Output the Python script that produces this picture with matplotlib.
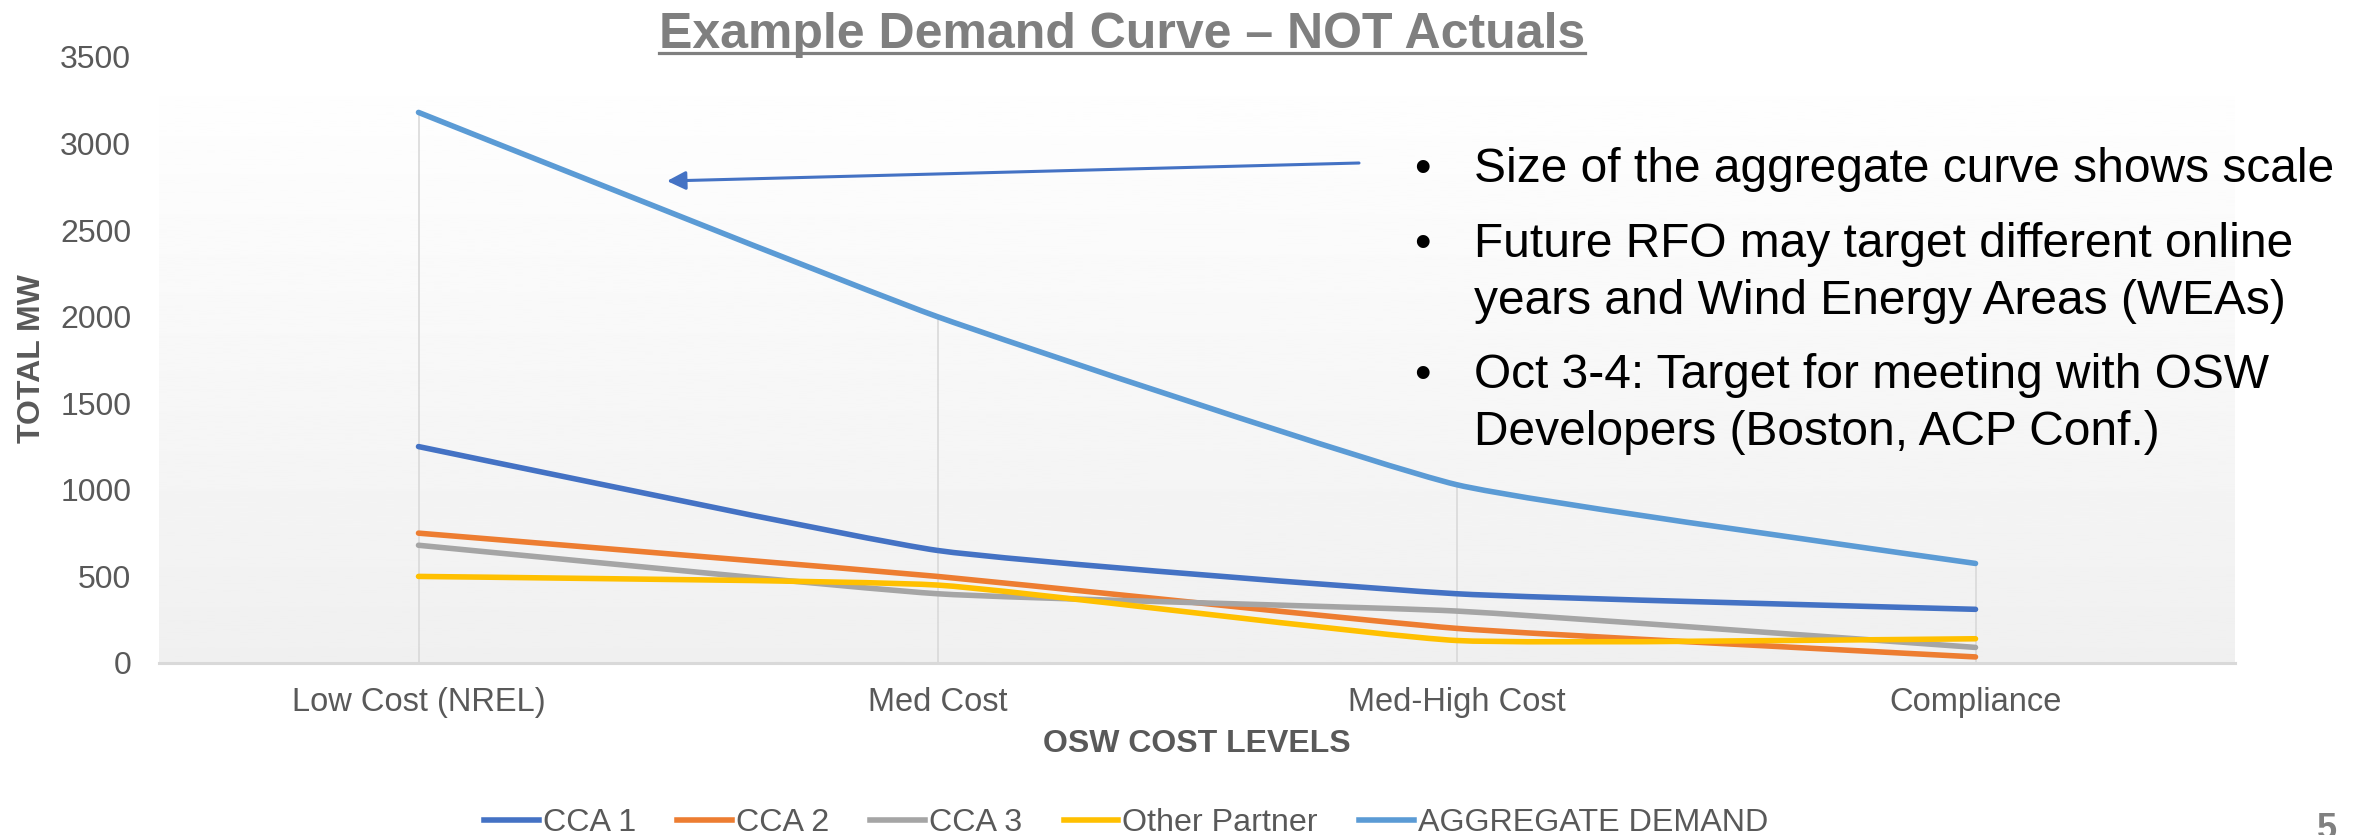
import numpy as np
import matplotlib
matplotlib.use("Agg")
import matplotlib.pyplot as plt
from matplotlib.path import Path
from matplotlib.patches import PathPatch, FancyArrowPatch
from matplotlib.lines import Line2D

plt.rcParams['font.family'] = ['Liberation Sans', 'DejaVu Sans']

# ---------------- data ----------------
categories = ["Low Cost (NREL)", "Med Cost", "Med-High Cost", "Compliance"]
series_names = ["CCA 1", "CCA 2", "CCA 3", "Other Partner", "AGGREGATE DEMAND"]
cca1 = [1250, 650, 400, 310]
cca2 = [750, 500, 200, 35]
cca3 = [680, 400, 300, 90]
other_partner = [500, 450, 130, 140]
aggregate = [3180, 2000, 1030, 575]
y_ticks = [0, 500, 1000, 1500, 2000, 2500, 3000, 3500]

title_text = "Example Demand Curve \u2013 NOT Actuals"
x_label = "OSW COST LEVELS"
y_label = "TOTAL MW"
bullets = [
    ["Size of the aggregate curve shows scale"],
    ["Future RFO may target different online", "years and Wind Energy Areas (WEAs)"],
    ["Oct 3-4: Target for meeting with OSW", "Developers (Boston, ACP Conf.)"],
]
page_number = "5"

colors = ["#4472C4", "#ED7D31", "#A5A5A5", "#FFC000", "#5B9BD5"]
all_series = [cca1, cca2, cca3, other_partner, aggregate]

W, H = 2359, 835
fig = plt.figure(figsize=(W / 100, H / 100), dpi=100)
fig.patch.set_facecolor("white")


def fx(px):
    return px / W


def fy(py):
    return 1 - py / H


ax = fig.add_axes([fx(159), fy(663), fx(2235) - fx(159), fy(57) - fy(663)])
ax.set_xlim(-0.5, len(categories) - 0.5)
ax.set_ylim(0, 3500)

# gradient background of plot area
grad = np.linspace(0.94, 1.0, 256).reshape(-1, 1)
ax.imshow(grad, cmap="gray", vmin=0, vmax=1, extent=[0, 1, 0, 1],
          transform=ax.transAxes, aspect="auto", origin="lower", zorder=0)
ax.set_facecolor("white")

x = np.arange(len(categories))

# drop lines from the highest series
ax.vlines(x, 0, aggregate, colors="#d9d9d9", linewidth=1.2, zorder=1)

SMOOTH = 0.07


def smooth_path(xs, ys):
    pts = np.column_stack([xs, ys]).astype(float)
    n = len(pts)
    verts = [pts[0]]
    codes = [Path.MOVETO]
    for i in range(n - 1):
        p0 = pts[i - 1] if i > 0 else pts[i]
        p1 = pts[i]
        p2 = pts[i + 1]
        p3 = pts[i + 2] if i + 2 < n else pts[i + 1]
        c1 = p1 + (p2 - p0) * SMOOTH
        c2 = p2 - (p3 - p1) * SMOOTH
        verts += [c1, c2, p2]
        codes += [Path.CURVE4] * 3
    return Path(verts, codes)


handles = []
for vals, c, name in zip(all_series, colors, series_names):
    patch = PathPatch(smooth_path(x, vals), facecolor="none", edgecolor=c,
                      linewidth=4, capstyle="round", joinstyle="round",
                      transform=ax.transData, zorder=3)
    ax.add_patch(patch)
    handles.append(Line2D([], [], color=c, linewidth=4, label=name))

ax.set_xticks(x)
ax.set_xticklabels(categories, fontsize=23.5, color="#595959")
ax.set_yticks(y_ticks)
ax.set_yticklabels([str(v) for v in y_ticks], fontsize=23, color="#595959")
ax.tick_params(axis="both", length=0)
ax.tick_params(axis="y", pad=20)
ax.tick_params(axis="x", pad=17)
for s in ["left", "right", "top"]:
    ax.spines[s].set_visible(False)
ax.spines["bottom"].set_color("#d9d9d9")
ax.spines["bottom"].set_linewidth(2.2)
ax.spines["bottom"].set_zorder(2)

# axis titles
fig.text(fx(1197), fy(744), x_label, fontsize=23, fontweight="bold",
         color="#595959", ha="center", va="center")
fig.text(fx(32), fy(359), y_label, fontsize=23, fontweight="bold",
         color="#595959", ha="center", va="center", rotation=90)

# title with underline
title = fig.text(fx(1122), fy(48), title_text, fontsize=36, fontweight="bold",
                 color="#7f7f7f", ha="center", va="baseline")

# legend
fig.legend(handles=handles, loc="center", bbox_to_anchor=(fx(1126), fy(823)),
           ncol=5, frameon=False, fontsize=23.2, handlelength=1.7,
           handletextpad=0.12, columnspacing=1.28, labelcolor="#595959")

# bullets
baselines = [[182], [257, 314], [388, 445]]
for lines, bls in zip(bullets, baselines):
    fig.text(fx(1422), fy(bls[0]), "\u2022", fontsize=34, color="black",
             ha="center", va="baseline")
    for t, b in zip(lines, bls):
        fig.text(fx(1474), fy(b), t, fontsize=34.5, color="black",
                 ha="left", va="baseline")

# arrow
arrow = FancyArrowPatch((fx(1359), fy(163)), (fx(667), fy(181)),
                        transform=fig.transFigure, arrowstyle="-|>",
                        mutation_scale=28, color="#4472C4", linewidth=2.2,
                        shrinkA=0, shrinkB=0)
fig.add_artist(arrow)

# page number
fig.text(fx(2327), fy(812), page_number, fontsize=26, fontweight="bold",
         color="#808080", ha="center", va="top")

fig.canvas.draw()
bb = title.get_window_extent(fig.canvas.get_renderer())
fig.add_artist(Line2D([bb.x0 / W, bb.x1 / W], [fy(53), fy(53)],
                      transform=fig.transFigure, color="#7f7f7f",
                      linewidth=2.3))

fig.savefig("out.png", dpi=100, facecolor="white")
